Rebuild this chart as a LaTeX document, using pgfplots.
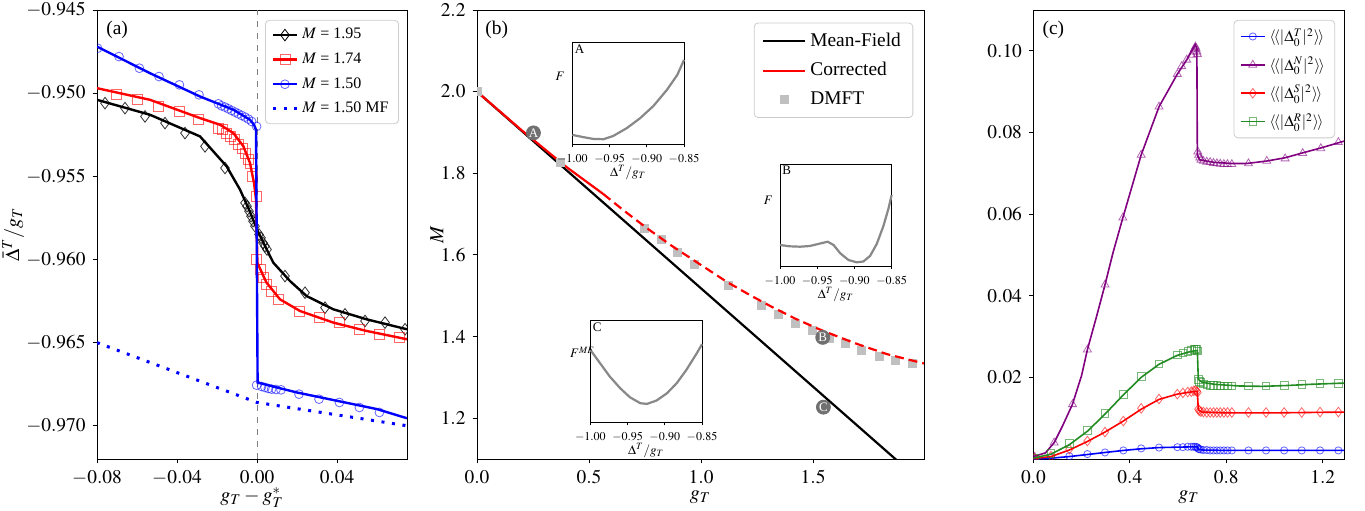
\documentclass[border=0pt]{standalone}
\usepackage{mathptmx}
\usepackage[no-math]{fontspec}
\setmainfont{Liberation Serif}
\usepackage{pgfplots}
\pgfplotsset{compat=1.18}

\definecolor{mpurple}{HTML}{800080}
\definecolor{mgreen}{HTML}{228B22}
\definecolor{dmft}{HTML}{C0C0C0}
\definecolor{lbl}{HTML}{707070}
\definecolor{fcurve}{HTML}{888888}

\pgfplotsset{
  mainax/.style={
    scale only axis, anchor=south west,
    tick align=outside, xtick pos=bottom, ytick pos=left,
    major tick length=2.2pt,
    every tick/.style={black, line width=0.5pt},
    axis line style={line width=0.5pt},
    tick label style={font=\fontsize{9.7}{11}\selectfont},
    label style={font=\fontsize{10.5}{12}\selectfont},
    scaled ticks=false, clip marker paths=true,
    every axis x label/.style={at={(axis description cs:0.5,-0.085)}, anchor=center},
    legend cell align=left,
  },
  leg/.style={
    legend style={draw=black!20, line width=0.4pt, rounded corners=2pt,
      fill=white, inner xsep=3pt, inner ysep=2pt, row sep=1.5pt},
  },
  inset/.style={
    scale only axis, anchor=south west, clip=false,
    axis background/.style={fill=white},
    xmin=-1, xmax=-0.85, ymin=0, ymax=102,
    xtick={-1,-0.95,-0.9,-0.85}, ytick=\empty,
    tick align=outside, xtick pos=bottom, major tick length=1.6pt,
    every tick/.style={black, line width=0.4pt},
    axis line style={line width=0.5pt},
    tick label style={font=\fontsize{6}{7}\selectfont},
    xticklabel style={/pgf/number format/.cd, fixed, fixed zerofill, precision=2},
    scaled ticks=false,
    xlabel={$\Delta^T/g_T$},
    every axis x label/.style={at={(axis description cs:0.5,-0.28)}, anchor=center, font=\fontsize{6.5}{7}\selectfont},
    width=55.8pt, height=51pt,
  },
}

\begin{document}
\begin{tikzpicture}
\path[use as bounding box] (0,0) rectangle (682.5pt,255pt);

% ---------------- (a) ----------------
\begin{axis}[mainax, leg,
  at={(48.5pt,25.5pt)}, width=155pt, height=224.5pt,
  xmin=-0.08, xmax=0.075, ymin=-0.972, ymax=-0.945,
  xtick={-0.08,-0.04,0,0.04},
  ytick={-0.970,-0.965,-0.960,-0.955,-0.950,-0.945},
  xticklabel style={/pgf/number format/.cd, fixed, fixed zerofill, precision=2},
  yticklabel style={/pgf/number format/.cd, fixed, fixed zerofill, precision=3},
  xlabel={$g_T - g_T^{*}$}, ylabel={$\bar{\Delta}^{T}/g_T$},
  every axis y label/.style={at={(axis description cs:-0.27,0.5)}, rotate=90, anchor=center},
  legend style={at={(0.974,0.978)}, anchor=north east, font=\fontsize{8}{9}\selectfont},
  legend image code/.code={\draw[mark repeat=2,mark phase=2,#1] plot coordinates {(0pt,0pt)(6pt,0pt)(12pt,0pt)};},
]
\addplot[gray, dashed, line width=0.5pt, forget plot] coordinates {(0,-0.972) (0,-0.945)};
% M = 1.95
\addplot[black, line width=1.2pt, forget plot] coordinates {
 (-0.08,-0.9504) (-0.0535,-0.9513) (-0.0285,-0.9526) (-0.0152,-0.9544) (-0.0085,-0.9558)
 (-0.004,-0.9570) (0,-0.9582) (0.0065,-0.9598) (0.0082,-0.9602) (0.0165,-0.9613)
 (0.0248,-0.9622) (0.0382,-0.9630) (0.0548,-0.9636) (0.075,-0.9642)};
\addplot[only marks, mark=diamond, mark size=2.9pt, mark options={black, line width=0.4pt, draw opacity=0.8}, forget plot] coordinates {
 (-0.076,-0.9506) (-0.066,-0.9509) (-0.056,-0.9514) (-0.046,-0.9518) (-0.036,-0.9524)
 (-0.026,-0.9532) (-0.016,-0.9545) (-0.006,-0.9566) (-0.005,-0.9568) (-0.004,-0.9571)
 (-0.003,-0.9574) (-0.002,-0.9577) (-0.001,-0.9580) (0.001,-0.9585) (0.002,-0.9587)
 (0.003,-0.9590) (0.004,-0.9592) (0.005,-0.9594) (0.014,-0.9610) (0.024,-0.9620)
 (0.034,-0.9629) (0.044,-0.9633) (0.054,-0.9637) (0.064,-0.9638) (0.074,-0.9642)};
% M = 1.74
\addplot[red, line width=1.2pt, forget plot] coordinates {
 (-0.08,-0.9497) (-0.0535,-0.9504) (-0.0285,-0.9515) (-0.0185,-0.9519) (-0.0118,-0.9524)
 (-0.0068,-0.9532) (-0.0035,-0.9542) (-0.0015,-0.9554) (-0.0005,-0.9564) (0.0002,-0.9602)
 (0.0032,-0.9610) (0.0048,-0.9614) (0.0115,-0.9624) (0.0215,-0.9631) (0.0382,-0.9638)
 (0.0548,-0.9643) (0.075,-0.9648)};
\addplot[only marks, mark=square, mark size=2.5pt, mark options={red, line width=0.4pt, draw opacity=0.6}, forget plot] coordinates {
 (-0.0702,-0.9501) (-0.0597,-0.9504) (-0.0494,-0.9508) (-0.039,-0.9511) (-0.0291,-0.9516)
 (-0.0193,-0.9521) (-0.0173,-0.9522) (-0.0153,-0.9524) (-0.0133,-0.9526) (-0.0115,-0.9528)
 (-0.0093,-0.9531) (-0.0073,-0.9533) (-0.0057,-0.9536) (-0.0045,-0.9540) (-0.0033,-0.9542)
 (-0.0025,-0.9550) (-0.0002,-0.9562) (-0.0002,-0.9600) (0.0015,-0.9606) (0.0032,-0.9611)
 (0.0048,-0.9615) (0.0073,-0.9619) (0.0107,-0.9624) (0.0212,-0.9631) (0.0312,-0.9635)
 (0.041,-0.9638) (0.051,-0.9642) (0.0612,-0.9645) (0.0712,-0.9647)};
% M = 1.50
\addplot[blue, line width=1.2pt, forget plot] coordinates {
 (-0.08,-0.9472) (-0.0535,-0.9488) (-0.0285,-0.9502) (-0.0118,-0.9510) (-0.0035,-0.9516)
 (-0.0015,-0.9519) (-0.0005,-0.9522) (0.0003,-0.9674) (0.01,-0.9677) (0.02,-0.9680)
 (0.04,-0.9685) (0.06,-0.9690) (0.075,-0.96955)};
\addplot[only marks, mark=o, mark size=2.2pt, mark options={blue, line width=0.4pt, draw opacity=0.6}, forget plot] coordinates {
 (-0.0797,-0.9473) (-0.069,-0.9478) (-0.0588,-0.9485) (-0.049,-0.9490) (-0.0388,-0.9495)
 (-0.029,-0.9501) (-0.0193,-0.95064) (-0.0177,-0.95076) (-0.016,-0.95084) (-0.0143,-0.95094)
 (-0.0127,-0.95104) (-0.011,-0.95114) (-0.0093,-0.95124) (-0.0077,-0.95134) (-0.006,-0.95144)
 (-0.0043,-0.95156) (-0.0027,-0.9517) (-0.0002,-0.9520) (-0.0002,-0.96756) (0.0023,-0.96764)
 (0.004,-0.9677) (0.0057,-0.96776) (0.0073,-0.9678) (0.0095,-0.96782) (0.012,-0.96784)
 (0.021,-0.9681) (0.031,-0.9684) (0.0412,-0.9686) (0.0512,-0.9689) (0.0612,-0.9692)};
% M = 1.50 MF
\addplot[blue, line width=1.5pt, dash pattern=on 1.5pt off 3.8pt, forget plot] coordinates {
 (-0.08,-0.9650) (-0.04,-0.9668) (0,-0.9686) (0.075,-0.9700)};
\addlegendimage{black, line width=1.2pt, mark=diamond, mark size=2.9pt, mark options={line width=0.4pt}}
\addlegendentry{$M$ = 1.95}
\addlegendimage{red, line width=1.2pt, mark=square, mark size=2.5pt, mark options={line width=0.4pt, draw opacity=0.6}}
\addlegendentry{$M$ = 1.74}
\addlegendimage{blue, line width=1.2pt, mark=o, mark size=2.2pt, mark options={line width=0.4pt, draw opacity=0.6}}
\addlegendentry{$M$ = 1.50}
\addlegendimage{blue, line width=1.5pt, dash pattern=on 1.5pt off 3.8pt}
\addlegendentry{$M$ = 1.50 MF}
\node[font=\fontsize{9.7}{11}\selectfont] at (rel axis cs:0.065,0.955) {(a)};
\end{axis}

% ---------------- (b) ----------------
\begin{axis}[mainax, leg,
  at={(238.5pt,25.5pt)}, width=223.5pt, height=224.5pt,
  xmin=0, xmax=1.995, ymin=1.1, ymax=2.2,
  xtick={0,0.5,1,1.5}, ytick={1.2,1.4,1.6,1.8,2.0,2.2},
  xticklabel style={/pgf/number format/.cd, fixed, fixed zerofill, precision=1},
  yticklabel style={/pgf/number format/.cd, fixed, fixed zerofill, precision=1},
  xlabel={$g_T$}, ylabel={$M$},
  every axis y label/.style={at={(axis description cs:-0.09,0.5)}, rotate=90, anchor=center},
  legend style={at={(0.976,0.972)}, anchor=north east, font=\fontsize{9.7}{11}\selectfont, row sep=2.5pt, inner xsep=4pt, inner ysep=3pt},
  legend image code/.code={\draw[mark repeat=2,mark phase=2,#1] plot coordinates {(0pt,0pt)(10.5pt,0pt)(21pt,0pt)};},
]
\addplot[black, line width=1.1pt] coordinates {(0,2.0) (2.0,1.036)};
\addlegendentry{Mean-Field}
\addplot[red, line width=1.1pt] coordinates {(0,2.0) (0.2,1.905) (0.4,1.815) (0.564,1.749)};
\addlegendentry{Corrected}
\addplot[dmft, only marks, mark=square*, mark size=2pt, mark options={fill=dmft, draw=dmft, line width=0pt}] coordinates {
 (0.0,2.0) (0.374,1.826) (0.747,1.665) (0.822,1.637) (0.896,1.605) (0.970,1.577)
 (1.122,1.525) (1.268,1.475) (1.346,1.453) (1.420,1.433) (1.497,1.414) (1.572,1.396)
 (1.646,1.382) (1.717,1.367) (1.795,1.352) (1.869,1.342) (1.943,1.334)};
\addlegendentry{DMFT}
\addplot[red, line width=1.1pt, dash pattern=on 4.5pt off 2.5pt, forget plot] coordinates {
 (0.564,1.749) (0.65,1.711) (0.757,1.666) (0.87,1.622) (0.981,1.582) (1.115,1.534)
 (1.22,1.501) (1.308,1.475) (1.42,1.444) (1.531,1.417) (1.68,1.385) (1.829,1.357) (1.995,1.334)};
\addplot[only marks, mark=*, mark size=3.5pt, mark options={fill=lbl, draw=lbl},
  point meta=explicit symbolic, nodes near coords, nodes near coords align=center,
  every node near coord/.append style={text=white, font=\fontsize{6.5}{7}\selectfont, inner sep=0pt},
  forget plot] table[meta=lab, row sep=\\] {
 x y lab\\ 0.252 1.899 A\\ 1.543 1.398 B\\ 1.546 1.227 C\\};
\node[font=\fontsize{9.7}{11}\selectfont] at (rel axis cs:0.044,0.955) {(b)};
\end{axis}

% inset A
\begin{axis}[inset, at={(286.2pt,182.9pt)}, ylabel={$F$},
  every axis y label/.style={at={(axis description cs:-0.11,0.663)}, anchor=center, font=\fontsize{6.5}{7}\selectfont}]
\addplot[fcurve, line width=1.1pt] coordinates {
 (-1.00,9.3) (-0.985,7.0) (-0.972,5.3) (-0.958,5.0) (-0.945,8.3) (-0.927,16) (-0.909,26)
 (-0.891,38.3) (-0.873,54.3) (-0.859,69.3) (-0.85,84.3)};
\node[anchor=north west, inner sep=1pt, font=\fontsize{6.5}{7}\selectfont] at (rel axis cs:0,1) {A};
\end{axis}

% inset B
\begin{axis}[inset, at={(390pt,122pt)}, ylabel={$F$},
  every axis y label/.style={at={(axis description cs:-0.105,0.649)}, anchor=center, font=\fontsize{6.5}{7}\selectfont}]
\addplot[fcurve, line width=1.1pt] coordinates {
 (-1.00,21) (-0.987,19.7) (-0.973,19.3) (-0.960,20) (-0.946,22.5) (-0.936,24.3) (-0.928,21)
 (-0.919,12.7) (-0.908,6) (-0.897,3.7) (-0.888,4.5) (-0.879,10) (-0.870,22) (-0.861,40)
 (-0.854,58) (-0.85,71)};
\node[anchor=north west, inner sep=1pt, font=\fontsize{6.5}{7}\selectfont] at (rel axis cs:0,1) {B};
\end{axis}

% inset C
\begin{axis}[inset, at={(295.2pt,43.9pt)}, ylabel={$F^{MF}$},
  every axis y label/.style={at={(axis description cs:-0.07,0.685)}, anchor=center, font=\fontsize{6.5}{7}\selectfont}]
\addplot[fcurve, line width=1.1pt] coordinates {
 (-1.00,72.3) (-0.987,59) (-0.974,45.7) (-0.960,34) (-0.947,25) (-0.933,19) (-0.924,18.3)
 (-0.911,21.7) (-0.897,29) (-0.884,39) (-0.871,52.3) (-0.857,69) (-0.85,78)};
\node[anchor=north west, inner sep=1pt, font=\fontsize{6.5}{7}\selectfont] at (rel axis cs:0,1) {C};
\end{axis}

% ---------------- (c) ----------------
\begin{axis}[mainax, leg,
  at={(516.7pt,25.5pt)}, width=155.5pt, height=224.5pt,
  xmin=0, xmax=1.29, ymin=0, ymax=0.11,
  xtick={0,0.4,0.8,1.2}, ytick={0.02,0.04,0.06,0.08,0.10},
  xticklabel style={/pgf/number format/.cd, fixed, fixed zerofill, precision=1},
  yticklabel style={/pgf/number format/.cd, fixed, fixed zerofill, precision=2},
  xlabel={$g_T$},
  legend style={at={(0.970,0.978)}, anchor=north east, font=\fontsize{7.8}{9}\selectfont, row sep=2pt},
  legend image code/.code={\draw[mark repeat=2,mark phase=2,#1] plot coordinates {(0pt,0pt)(6pt,0pt)(12pt,0pt)};},
]
% T
\addplot[blue, line width=0.8pt, forget plot] coordinates {
 (0,0) (0.073,0.0002) (0.149,0.0006) (0.224,0.0011) (0.297,0.0016) (0.373,0.0021) (0.447,0.0025)
 (0.521,0.0028) (0.597,0.0029) (0.68,0.0030) (0.684,0.0024) (0.70,0.0022) (0.8,0.0021) (1.29,0.0021)};
\addplot[only marks, mark=o, mark size=1.8pt, mark options={blue, line width=0.4pt, draw opacity=0.6}, forget plot] coordinates {
 (0.005,0.0001) (0.073,0.0003) (0.149,0.0007) (0.224,0.0012) (0.297,0.0016) (0.373,0.0021)
 (0.447,0.0026) (0.521,0.0028) (0.597,0.0029) (0.62,0.0029) (0.64,0.0030) (0.655,0.0030)
 (0.665,0.0030) (0.672,0.0030) (0.678,0.0029) (0.681,0.0028) (0.684,0.0025) (0.688,0.0024)
 (0.695,0.0023) (0.705,0.0022) (0.719,0.0022) (0.733,0.0021) (0.747,0.0021) (0.761,0.0021)
 (0.775,0.0021) (0.790,0.0021) (0.805,0.0021) (0.823,0.0021) (0.892,0.0021) (0.965,0.0021)
 (1.040,0.0021) (1.113,0.0021) (1.189,0.0021) (1.265,0.0021)};
% N
\addplot[mpurple, line width=0.8pt, forget plot] coordinates {
 (0,0.0006) (0.05,0.0015) (0.086,0.0040) (0.12,0.0080) (0.162,0.0134) (0.2,0.0205) (0.224,0.0268)
 (0.26,0.0345) (0.297,0.0427) (0.33,0.0505) (0.371,0.0591) (0.41,0.0670) (0.447,0.0745)
 (0.521,0.0863) (0.597,0.0943) (0.636,0.0978) (0.672,0.1015) (0.678,0.1005) (0.680,0.0745)
 (0.69,0.0733) (0.746,0.0727) (0.82,0.0724) (0.885,0.0724) (0.968,0.0730) (1.044,0.0738)
 (1.117,0.0750) (1.192,0.0762) (1.29,0.0779)};
\addplot[only marks, mark=triangle, mark size=2.3pt, mark options={mpurple, line width=0.4pt, draw opacity=0.6}, forget plot] coordinates {
 (0.005,0.0005) (0.086,0.0040) (0.162,0.0134) (0.224,0.0268) (0.297,0.0427) (0.371,0.0591)
 (0.447,0.0745) (0.521,0.0863) (0.597,0.0943) (0.615,0.0962) (0.636,0.0978) (0.655,0.0990)
 (0.664,0.0998) (0.668,0.1005) (0.672,0.1010) (0.675,0.1005) (0.678,0.0998) (0.680,0.0992)
 (0.682,0.0753) (0.686,0.0745) (0.690,0.0738) (0.695,0.0733) (0.705,0.0730) (0.719,0.0728)
 (0.733,0.0727) (0.747,0.0725) (0.761,0.0724) (0.775,0.0723) (0.790,0.0722) (0.805,0.0722)
 (0.823,0.0722) (0.892,0.0724) (0.968,0.0730) (1.044,0.0736) (1.117,0.0749) (1.192,0.0761)
 (1.265,0.0776)};
% S
\addplot[red, line width=0.8pt, forget plot] coordinates {
 (0,0.0001) (0.073,0.0006) (0.149,0.0022) (0.224,0.0043) (0.297,0.0066) (0.373,0.0093)
 (0.447,0.0122) (0.521,0.0146) (0.597,0.0159) (0.65,0.0164) (0.68,0.0166) (0.684,0.0120)
 (0.70,0.0115) (0.8,0.0113) (1.0,0.0113) (1.29,0.0115)};
\addplot[only marks, mark=diamond, mark size=2.4pt, mark options={red, line width=0.4pt, draw opacity=0.6}, forget plot] coordinates {
 (0.005,0.0002) (0.073,0.0007) (0.149,0.0024) (0.224,0.0044) (0.297,0.0066) (0.373,0.0093)
 (0.447,0.0124) (0.521,0.0147) (0.597,0.0159) (0.62,0.0162) (0.64,0.0164) (0.655,0.0165)
 (0.665,0.0167) (0.672,0.0168) (0.678,0.0166) (0.681,0.0163) (0.684,0.0122) (0.688,0.0118)
 (0.695,0.0116) (0.705,0.0115) (0.719,0.0114) (0.733,0.0114) (0.747,0.0114) (0.761,0.0114)
 (0.775,0.0114) (0.790,0.0114) (0.805,0.0114) (0.823,0.0114) (0.892,0.0114) (0.965,0.0114)
 (1.040,0.0114) (1.113,0.0114) (1.189,0.0115) (1.265,0.0115)};
% R
\addplot[mgreen, line width=0.8pt, forget plot] coordinates {
 (0,0.0002) (0.073,0.0012) (0.149,0.0035) (0.224,0.0068) (0.297,0.0110) (0.373,0.0157)
 (0.447,0.0200) (0.521,0.0232) (0.597,0.0254) (0.65,0.0263) (0.68,0.0266) (0.684,0.0195)
 (0.70,0.0188) (0.75,0.0183) (0.85,0.0179) (0.95,0.0178) (1.05,0.0180) (1.15,0.0183) (1.29,0.0186)};
\addplot[only marks, mark=square, mark size=1.9pt, mark options={mgreen, line width=0.4pt, draw opacity=0.6}, forget plot] coordinates {
 (0.005,0.0003) (0.073,0.0014) (0.149,0.0038) (0.224,0.0070) (0.297,0.0112) (0.373,0.0159)
 (0.447,0.0203) (0.521,0.0233) (0.597,0.0255) (0.62,0.0260) (0.64,0.0263) (0.655,0.0266)
 (0.665,0.0268) (0.672,0.0270) (0.678,0.0268) (0.681,0.0265) (0.684,0.0195) (0.688,0.0190)
 (0.695,0.0187) (0.705,0.0184) (0.719,0.0182) (0.733,0.0181) (0.747,0.0180) (0.761,0.0180)
 (0.775,0.0179) (0.790,0.0179) (0.805,0.0179) (0.823,0.0179) (0.892,0.0179) (0.965,0.0179)
 (1.040,0.0181) (1.113,0.0183) (1.189,0.0185) (1.265,0.0185)};
\addlegendimage{blue, line width=0.8pt, mark=o, mark size=1.8pt, mark options={line width=0.4pt, draw opacity=0.6}}
\addlegendentry{$\langle\!\langle|\Delta_0^{T}|^2\rangle\!\rangle$}
\addlegendimage{mpurple, line width=0.8pt, mark=triangle, mark size=2.3pt, mark options={line width=0.4pt, draw opacity=0.6}}
\addlegendentry{$\langle\!\langle|\Delta_0^{N}|^2\rangle\!\rangle$}
\addlegendimage{red, line width=0.8pt, mark=diamond, mark size=2.4pt, mark options={line width=0.4pt, draw opacity=0.6}}
\addlegendentry{$\langle\!\langle|\Delta_0^{S}|^2\rangle\!\rangle$}
\addlegendimage{mgreen, line width=0.8pt, mark=square, mark size=1.9pt, mark options={line width=0.4pt, draw opacity=0.6}}
\addlegendentry{$\langle\!\langle|\Delta_0^{R}|^2\rangle\!\rangle$}
\node[font=\fontsize{9.7}{11}\selectfont] at (rel axis cs:0.064,0.955) {(c)};
\end{axis}
\end{tikzpicture}
\end{document}
